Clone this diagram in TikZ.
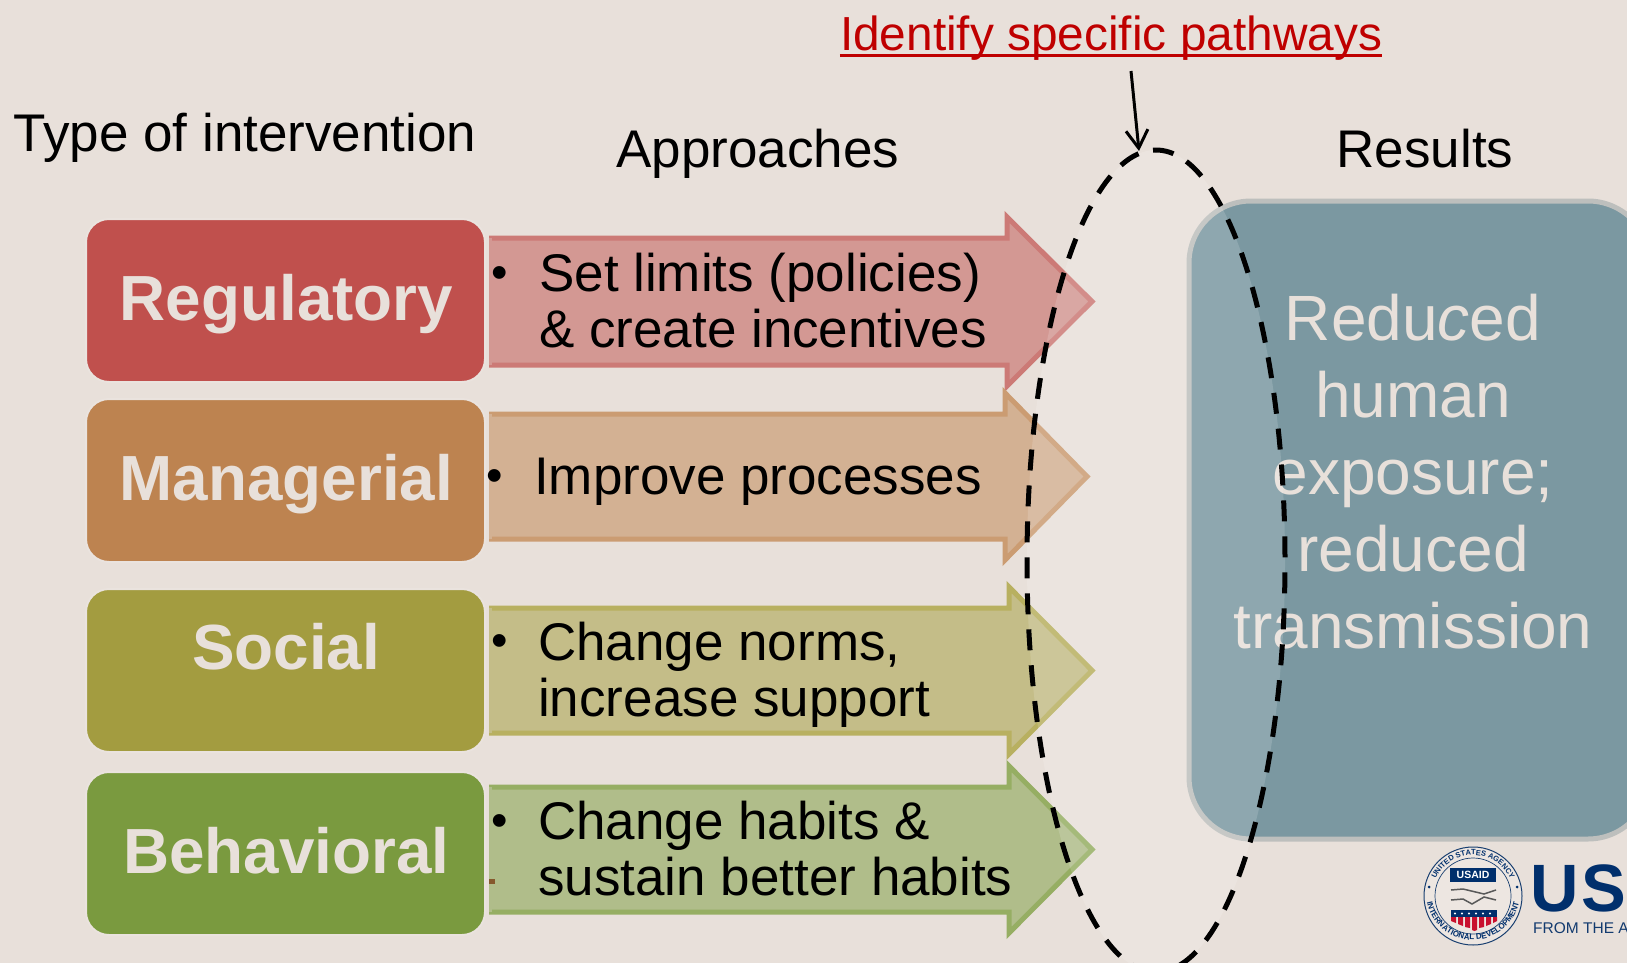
\documentclass[tikz,border=0pt]{standalone}
\usepackage{fontspec}
\setmainfont{Liberation Sans}
\usetikzlibrary{arrows.meta,decorations.text,calc}
\definecolor{bgc}{HTML}{E8E0DA}
\definecolor{regC}{HTML}{C0504D}\definecolor{regF}{HTML}{D39893}\definecolor{regB}{HTML}{CC7A76}
\definecolor{manC}{HTML}{BD8350}\definecolor{manF}{HTML}{D3B193}\definecolor{manB}{HTML}{CB9C72}
\definecolor{socC}{HTML}{A39C40}\definecolor{socF}{HTML}{C4BD88}\definecolor{socB}{HTML}{B8B060}
\definecolor{behC}{HTML}{7A9A3F}\definecolor{behF}{HTML}{B0BD8A}\definecolor{behB}{HTML}{96AE63}
\definecolor{resF}{HTML}{7B98A1}\definecolor{resB}{HTML}{BDBFBD}\definecolor{navy}{HTML}{002F6C}\definecolor{usred}{HTML}{C8102E}
\tikzset{
 x=1pt,y=-1pt,
 typebox/.style={rounded corners=23pt,minimum width=399pt,minimum height=163pt,draw=bgc!90!white,line width=2pt,anchor=north west,inner sep=0pt},
 typetext/.style={font=\bfseries\fontsize{63.8}{64}\selectfont,text=bgc,anchor=base,inner sep=0pt},
 headtext/.style={font=\fontsize{53}{53}\selectfont,text=black,anchor=base,inner sep=0pt},
 itemtext/.style={font=\fontsize{53}{55.5}\selectfont,text=black,align=left,anchor=west,inner sep=0pt},
 bullet/.style={font=\fontsize{47}{47}\selectfont,text=black,anchor=base,inner sep=0pt},
 bigarrow/.style={line width=5pt,miter limit=10},
 ringdash/.style={black,line width=5pt,dash pattern=on 21pt off 15pt},
}
\newcommand{\bigarr}[8]{%
 \path[bigarrow,fill=#2,draw=#3] (#4,#7) -- (#5,#7) -- (#5,{#7-\hov}) -- (#6,{(#7+#8)/2}) -- (#5,{#8+\hov}) -- (#5,#8) -- (#4,#8);
 \fill[#2] (#4,#7) rectangle (#4+3,#8);
 \coordinate (#1) at (#6,{(#7+#8)/2});
}
\begin{document}
\begin{tikzpicture}
\useasboundingbox (0,0) rectangle (1627,963);
\fill[bgc] (0,0) rectangle (1627,963);
% headers
\node[headtext] (h1) at (245,151) {Type of intervention};
\node[headtext] (h2) at (758,167) {Approaches};
\node[headtext] (h3) at (1425,167) {Results};
\node[font=\fontsize{47.8}{48}\selectfont,text=red!75!black,anchor=base,inner sep=0pt] (title) at (1111,51) {Identify specific pathways};
\draw[red!75!black,line width=2.5pt] ($(title.base west)+(0,4.5)$) -- ($(title.base east)+(0,4.5)$);
% result box
\path[fill=resF,draw=resB,line width=5pt,rounded corners=62pt] (1189,201) rectangle (1650,839);
\node[font=\fontsize{64}{77}\selectfont,text=bgc,align=center,inner sep=0pt,anchor=north] (res) at (1413,294) {Redu{\itshape c}ed\\human\\exposure;\\reduced\\transmission};
% arrows
\def\hov{21}
\bigarr{a1}{regF}{regB}{489}{1007}{1092}{238}{365}
\bigarr{a2}{manF}{manB}{489}{1005}{1087}{414}{539}
\bigarr{a3}{socF}{socB}{489}{1009}{1092}{608}{733}
\bigarr{a4}{behF}{behB}{489}{1009}{1092}{787}{912}
\fill[brown!70!black] (489,879) rectangle (495,884);
% type boxes
\node[typebox,fill=regC] (b1) at (85,218) {};
\node[typebox,fill=manC] (b2) at (85,398) {};
\node[typebox,fill=socC] (b3) at (85,588) {};
\node[typebox,fill=behC] (b4) at (85,771) {};
\node[typetext] (t1) at (286.5,320) {Regulatory};
\node[typetext] (t2) at (286.5,500) {Managerial};
\node[typetext] (t3) at (286,669) {Social};
\node[typetext] (t4) at (286.5,873) {Behavioral};
% bullets and items
\node[bullet] (d1) at (500,288) {•};
\node[bullet] (d2) at (495,491) {•};
\node[bullet] (d3) at (500,656) {•};
\node[bullet] (d4) at (500,836) {•};
\node[itemtext] (i1) at (539,300.5) {Set limits (policies)\\\& create incentives};
\node[itemtext] (i2) at (534,481.5) {Improve processes};
\node[itemtext] (i3) at (538,675) {Change norms,\\increase support};
\node[itemtext] (i4) at (538,848.5) {Change habits \&\\sustain better habits};
% ellipse
\path[fill=white,fill opacity=.15,draw=none] (1156,561) ellipse [x radius=129,y radius=411];
\coordinate (ringtop) at (1156,150);
\draw[ringdash,dash phase=18pt] (ringtop) arc[start angle=-90,delta angle=-180,x radius=129,y radius=411];
\draw[ringdash,dash phase=3pt] (ringtop) arc[start angle=-90,delta angle=180,x radius=129,y radius=411];
\coordinate (arrstart) at (1131,71);
\coordinate (arrend) at (1139,151);
\draw[black,line width=3pt,-{Straight Barb[length=18pt,width=22pt,line width=3pt]}] (arrstart) -- (arrend);
% logo
\begin{scope}
\node[circle,draw=navy!80!gray,line width=1pt,minimum size=98pt,inner sep=0pt,fill=bgc!80!white] (seal) at (1473,896) {};
\draw[navy!80!gray,line width=.7pt] (seal.center) circle[radius=38];
\path[decorate,decoration={text along path,text align=center,text={|\bfseries\fontsize{7.5}{7.5}\selectfont\color{navy}|UNITED STATES AGENCY}}] (1432,896) arc[start angle=180,end angle=360,radius=41];
\path[decorate,decoration={text along path,text align=center,text={|\bfseries\fontsize{8}{8}\selectfont\color{navy}|INTERNATIONAL DEVELOPMENT}}] (1426,893) arc[start angle=180,end angle=0,radius=47];
\fill[navy] (1429,887) circle[radius=1.5] (1517,887) circle[radius=1.5];
\node[fill=navy,text=white,font=\bfseries\fontsize{10.5}{10.5}\selectfont,minimum width=46pt,minimum height=14pt,inner sep=0pt] (ub) at (1473,875) {USAID};
\draw[gray!70!black,line width=1.5pt] (1451,890) -- (1463,889) -- (1484,894) -- (1496,890);
\draw[gray!70!black,line width=1.5pt] (1451,900) -- (1463,899) -- (1472,904) -- (1484,897) -- (1496,900);
\fill[navy] (1451,910) rectangle (1497,917);
\foreach \xx in {1455,1462,1469,1476,1483,1490}{\fill[white] (\xx,913.5) circle[radius=1.1];}
\fill[usred] (1451,917) -- (1456,917) -- (1456,923) -- (1451,921) -- cycle;
\fill[usred] (1458,917) -- (1463,917) -- (1463,926) -- (1458,924) -- cycle;
\fill[usred] (1465,917) -- (1470,917) -- (1470,928) -- (1465,927) -- cycle;
\fill[usred] (1472,917) -- (1477,917) -- (1477,930) -- (1474.5,931) -- (1472,930) -- cycle;
\fill[usred] (1479,917) -- (1484,917) -- (1484,927) -- (1479,928) -- cycle;
\fill[usred] (1486,917) -- (1491,917) -- (1491,924) -- (1486,926) -- cycle;
\fill[usred] (1493,917) -- (1497,917) -- (1497,921) -- (1493,923) -- cycle;
\clip (1500,820) rectangle (1627,963);
\node[font=\bfseries\fontsize{67}{67}\selectfont,text=navy,anchor=base west,inner sep=0pt] (us) at (1530,911) {U\kern3pt S\kern6pt AID};
\node[font=\fontsize{15.5}{15.5}\selectfont,text=navy!85!gray,anchor=base west,inner sep=0pt] (from) at (1533,933) {FROM THE AMERICAN PEOPLE};
\end{scope}
\end{tikzpicture}
\end{document}
